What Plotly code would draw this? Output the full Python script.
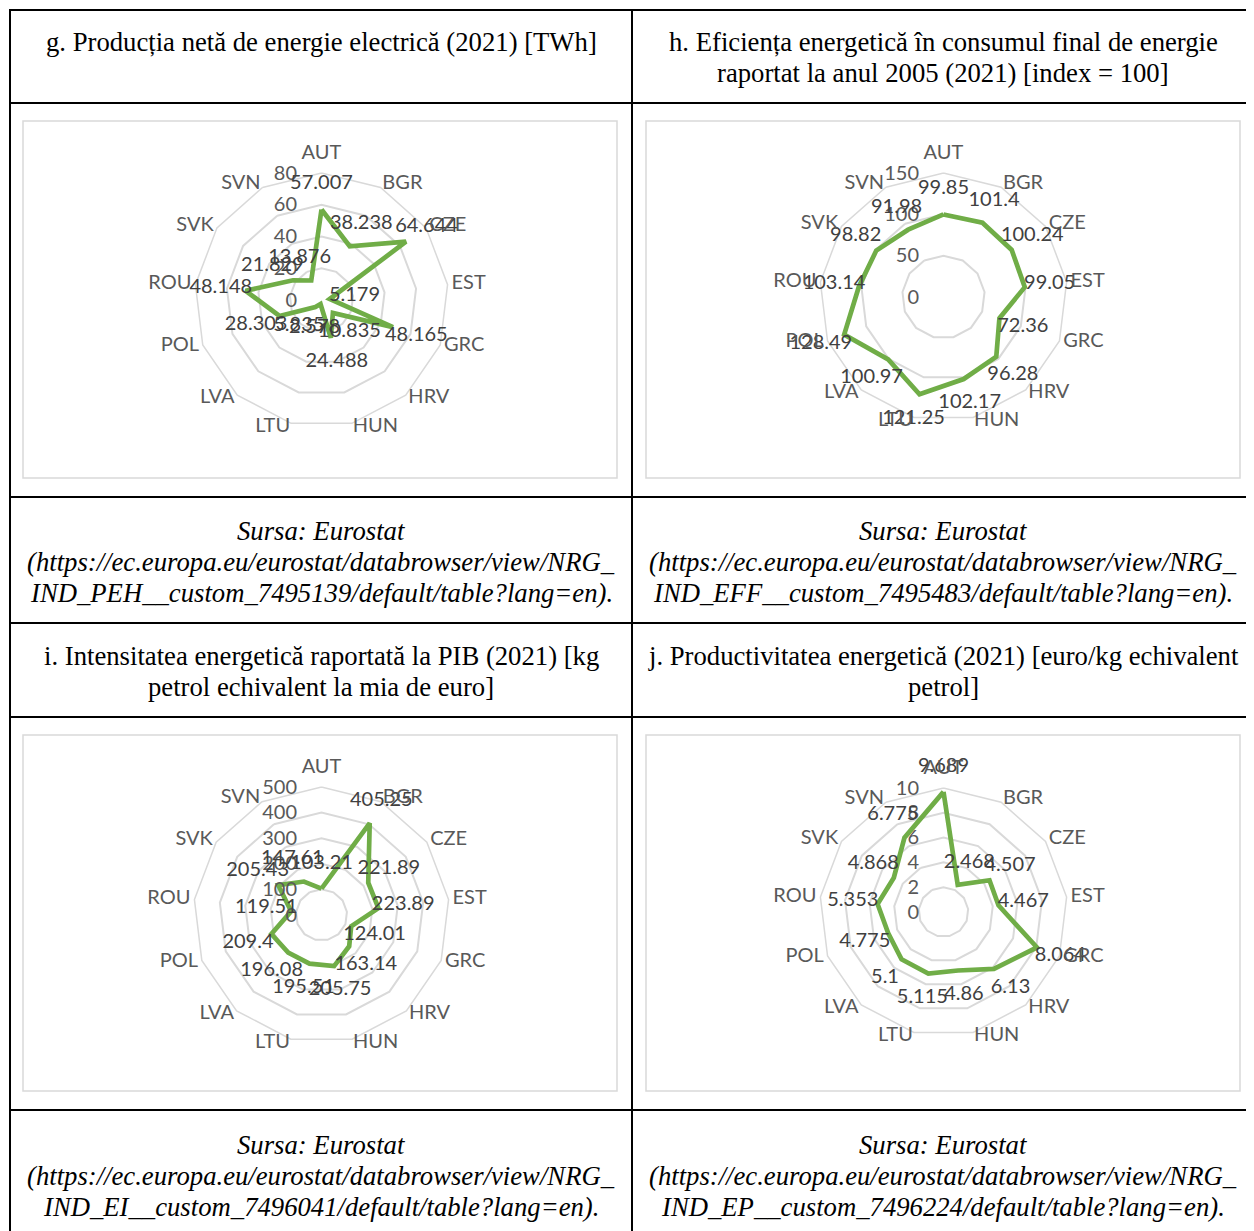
import plotly.graph_objects as go

W, H = 1254, 1231          # reference picture size
OFF = 8                    # browser body margin
FW, FH = W - OFF, H - OFF  # figure size

countries = ["AUT", "BGR", "CZE", "EST", "GRC", "HRV", "HUN", "LTU", "LVA", "POL", "ROU", "SVK", "SVN"]

# g. Producția netă de energie electrică (2021) [TWh]
g_values = [57.007, 38.238, 64.644, 5.179, 48.165, 10.835, 24.488, 2.578, 5.835, 28.303, 48.148, 21.829, 13.876]
# h. Eficiența energetică ... [index = 100]
h_values = [99.85, 101.4, 100.24, 99.05, 72.36, 96.28, 102.17, 121.25, 100.97, 128.49, 103.14, 98.82, 91.98]
# i. Intensitatea energetică raportată la PIB (2021)
i_values = [103.21, 405.25, 221.89, 223.89, 124.01, 163.14, 205.75, 195.51, 196.08, 209.4, 119.51, 205.43, 147.61]
# j. Productivitatea energetică (2021)
j_values = [9.689, 2.468, 4.507, 4.467, 8.064, 6.13, 4.86, 5.115, 5.1, 4.775, 5.353, 4.868, 6.775]

g_title = ["g. Producția netă de energie electrică (2021) [TWh]"]
h_title = ["h. Eficiența energetică în consumul final de energie",
           "raportat la anul 2005 (2021) [index = 100]"]
i_title = ["i. Intensitatea energetică raportată la PIB (2021) [kg",
           "petrol echivalent la mia de euro]"]
j_title = ["j. Productivitatea energetică (2021) [euro/kg echivalent",
           "petrol]"]

g_source = ["Sursa: Eurostat", "(https://ec.europa.eu/eurostat/databrowser/view/NRG_",
            "IND_PEH__custom_7495139/default/table?lang=en)."]
h_source = ["Sursa: Eurostat", "(https://ec.europa.eu/eurostat/databrowser/view/NRG_",
            "IND_EFF__custom_7495483/default/table?lang=en)."]
i_source = ["Sursa: Eurostat", "(https://ec.europa.eu/eurostat/databrowser/view/NRG_",
            "IND_EI__custom_7496041/default/table?lang=en)."]
j_source = ["Sursa: Eurostat", "(https://ec.europa.eu/eurostat/databrowser/view/NRG_",
            "IND_EP__custom_7496224/default/table?lang=en)."]

GREEN = "#70AD47"
GRID = "#D9D9D9"
AXTXT = "#595959"
LBLTXT = "#404040"
CHART_FONT = "Lato"
SERIF = "Liberation Serif"


def px(x):
    return (x - OFF) / FW


def py(y):
    return 1 - (y - OFF) / FH


charts = [
    dict(name="polar", over="polar5", vals=g_values, rmax=80, dtick=20, cx=321.5, cy=300, R=127),
    dict(name="polar2", over="polar6", vals=h_values, rmax=150, dtick=50, cx=943.5, cy=297, R=124),
    dict(name="polar3", over="polar7", vals=i_values, rmax=500, dtick=100, cx=321.5, cy=915, R=128),
    dict(name="polar4", over="polar8", vals=j_values, rmax=10, dtick=2, cx=943.5, cy=912, R=124),
]

# category label placement (Excel style: above for the top axis, beside otherwise)
cat_pos = []
cat_msize = []
for k, c in enumerate(countries):
    if k == 0:
        cat_pos.append("top center")
        cat_msize.append(6)
    elif k <= 6:
        cat_pos.append("middle right")
        cat_msize.append(0)
    else:
        cat_pos.append("middle left")
        cat_msize.append(0)

fig = go.Figure()
layout_polars = {}
LABEL_OFFSET_PX = 25
CAT_OFFSET_PX = 4
S = 1.4  # overlay subplot (same scale, larger range) for labels outside the rings


def domain_for(c, radius):
    return dict(x=[px(c["cx"] - radius), px(c["cx"] + radius)],
                y=[py(c["cy"] + radius), py(c["cy"] - radius)])


for c in charts:
    vals = c["vals"]
    fig.add_trace(go.Scatterpolar(
        r=vals + vals[:1], theta=countries + countries[:1],
        mode="lines", line=dict(color=GREEN, width=4.7),
        subplot=c["name"], hoverinfo="skip", showlegend=False,
    ))
    unit = c["rmax"] / c["R"]
    fig.add_trace(go.Scatterpolar(
        r=[v + LABEL_OFFSET_PX * unit for v in vals], theta=countries,
        mode="text", text=[str(v) for v in vals], textposition="middle center",
        textfont=dict(family=CHART_FONT, size=20, color=LBLTXT),
        subplot=c["over"], hoverinfo="skip", showlegend=False,
    ))
    fig.add_trace(go.Scatterpolar(
        r=[c["rmax"] + CAT_OFFSET_PX * unit] * len(countries), theta=countries,
        mode="markers+text", text=countries, textposition=cat_pos,
        marker=dict(size=cat_msize, color="rgba(0,0,0,0)"),
        textfont=dict(family=CHART_FONT, size=20, color=AXTXT),
        subplot=c["over"], hoverinfo="skip", showlegend=False,
    ))
    layout_polars[c["name"]] = dict(
        domain=domain_for(c, c["R"]),
        bgcolor="rgba(0,0,0,0)",
        gridshape="linear",
        angularaxis=dict(type="category", categoryarray=countries, direction="clockwise",
                         rotation=90, showgrid=False, showline=True, linecolor=GRID,
                         linewidth=1.5, ticks="", showticklabels=False),
        radialaxis=dict(range=[0, c["rmax"]], tick0=0, dtick=c["dtick"], angle=90,
                        side="counterclockwise", tickangle=90, showline=False,
                        gridcolor=GRID, gridwidth=1.5, ticks="outside", ticklen=17,
                        tickcolor="rgba(0,0,0,0)",
                        tickfont=dict(family=CHART_FONT, size=20, color=AXTXT)),
    )
    layout_polars[c["over"]] = dict(
        domain=domain_for(c, c["R"] * S),
        bgcolor="rgba(0,0,0,0)",
        gridshape="linear",
        angularaxis=dict(type="category", categoryarray=countries, direction="clockwise",
                         rotation=90, showgrid=False, showline=False, ticks="",
                         showticklabels=False),
        radialaxis=dict(range=[0, c["rmax"] * S], visible=False, showgrid=False),
    )

shapes = []


def px_line(x0, y0, x1, y1, color="black", width=2):
    shapes.append(dict(type="line", xref="paper", yref="paper",
                       x0=px(x0), x1=px(x1), y0=py(y0), y1=py(y1),
                       line=dict(color=color, width=width), layer="above"))


for y in [10, 103, 497, 623, 717, 1110]:
    px_line(9, y, W + 5, y)
for x in [10, 632]:
    px_line(x, 9, x, H + 5)

for (x0, y0, x1, y1) in [(23, 121, 617, 478), (646, 121, 1240, 478),
                         (23, 735, 617, 1091), (646, 735, 1240, 1091)]:
    shapes.append(dict(type="rect", xref="paper", yref="paper",
                       x0=px(x0), x1=px(x1), y0=py(y1), y1=py(y0),
                       line=dict(color=GRID, width=1.5), fillcolor="white", layer="below"))

annotations = []


def add_lines(lines, cx, y_start, italic=False):
    for k, t in enumerate(lines):
        annotations.append(dict(
            text=t, xref="paper", yref="paper", x=px(cx), y=py(y_start + 31 * k),
            xanchor="center", yanchor="middle", showarrow=False,
            font=dict(family=SERIF, size=26.7, color="black",
                      style="italic" if italic else "normal")))


add_lines(g_title, 321, 42)
add_lines(h_title, 943, 42)
add_lines(i_title, 321, 656)
add_lines(j_title, 943, 656)
add_lines(g_source, 321, 531, italic=True)
add_lines(h_source, 943, 531, italic=True)
add_lines(i_source, 321, 1145, italic=True)
add_lines(j_source, 943, 1145, italic=True)

fig.update_layout(
    width=FW, height=FH, margin=dict(l=0, r=0, t=0, b=0),
    paper_bgcolor="white", plot_bgcolor="white", showlegend=False,
    shapes=shapes, annotations=annotations, **layout_polars,
)

fig.write_html("out.html")
